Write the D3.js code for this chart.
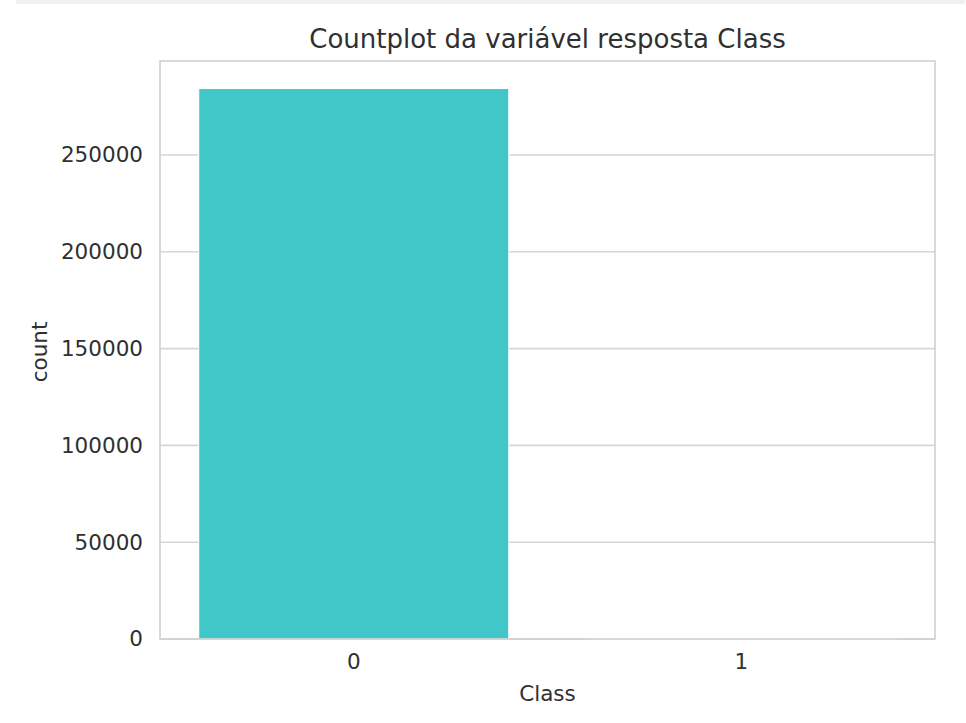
<!DOCTYPE html>
<html><head><meta charset="utf-8">
<script src="https://cdn.jsdelivr.net/npm/d3@7"></script>
<style>
html,body{margin:0;padding:0;background:#fff;}
svg{display:block;font-family:"DejaVu Sans",sans-serif;}
</style></head>
<body>
<svg id="chart" width="966" height="723"></svg>
<script>
const categories = ["0", "1"];
const counts = [284315, 492];
const yTicks = [0, 50000, 100000, 150000, 200000, 250000];
const titleText = "Countplot da variável resposta Class";
const xLabel = "Class";
const yLabel = "count";

const svg = d3.select("#chart");
const W = 966, H = 723;
const m = {left: 160, right: 31, top: 61, bottom: 84};
const pw = W - m.left - m.right, ph = H - m.top - m.bottom;
const fs = 21.5;

// top strip
svg.append("rect").attr("x", 16).attr("y", 0).attr("width", W - 17).attr("height", 4).attr("fill", "#eef0f3");

const x = d3.scaleBand().domain(categories).range([m.left, m.left + pw]).paddingInner(0.2).paddingOuter(0.1);
const y = d3.scaleLinear().domain([0, d3.max(counts) * 1.05]).range([m.top + ph, m.top]);

const g = svg.append("g");
// grid
g.selectAll("line.grid").data(yTicks).join("line")
  .attr("x1", m.left).attr("x2", m.left + pw)
  .attr("y1", d => y(d)).attr("y2", d => y(d))
  .attr("stroke", "#d6d6d6").attr("stroke-width", 1.6);

// bars
g.selectAll("rect.bar").data(categories).join("rect")
  .attr("x", d => x(d)).attr("width", x.bandwidth())
  .attr("y", (d, i) => y(counts[i])).attr("height", (d, i) => y(0) - y(counts[i]))
  .attr("fill", "#42c7c8").attr("stroke", "#ffffff").attr("stroke-width", 1);

// spines
svg.append("rect").attr("x", m.left).attr("y", m.top).attr("width", pw).attr("height", ph)
  .attr("fill", "none").attr("stroke", "#d0d0d0").attr("stroke-width", 1.6);

// y axis
const ya = svg.append("g").attr("transform", `translate(${m.left},0)`)
  .call(d3.axisLeft(y).tickValues(yTicks).tickSize(0).tickPadding(17).tickFormat(d3.format("d")));
ya.select(".domain").remove();
ya.selectAll("text").attr("font-size", fs).attr("fill", "#303030").attr("font-family", "DejaVu Sans");

// x axis
const xa = svg.append("g").attr("transform", `translate(0,${m.top + ph})`)
  .call(d3.axisBottom(x).tickSize(0).tickPadding(15));
xa.select(".domain").remove();
xa.selectAll("text").attr("font-size", fs).attr("fill", "#303030").attr("font-family", "DejaVu Sans");

// labels
svg.append("text").attr("x", m.left + pw / 2).attr("y", 48).attr("text-anchor", "middle")
  .attr("font-size", 26).attr("fill", "#303030").text(titleText);
svg.append("text").attr("x", m.left + pw / 2).attr("y", 701).attr("text-anchor", "middle")
  .attr("font-size", fs).attr("fill", "#303030").text(xLabel);
svg.append("text").attr("transform", `translate(47,${m.top + ph / 2 + 2}) rotate(-90)`).attr("text-anchor", "middle")
  .attr("font-size", fs).attr("fill", "#303030").text(yLabel);
</script>
</body></html>
